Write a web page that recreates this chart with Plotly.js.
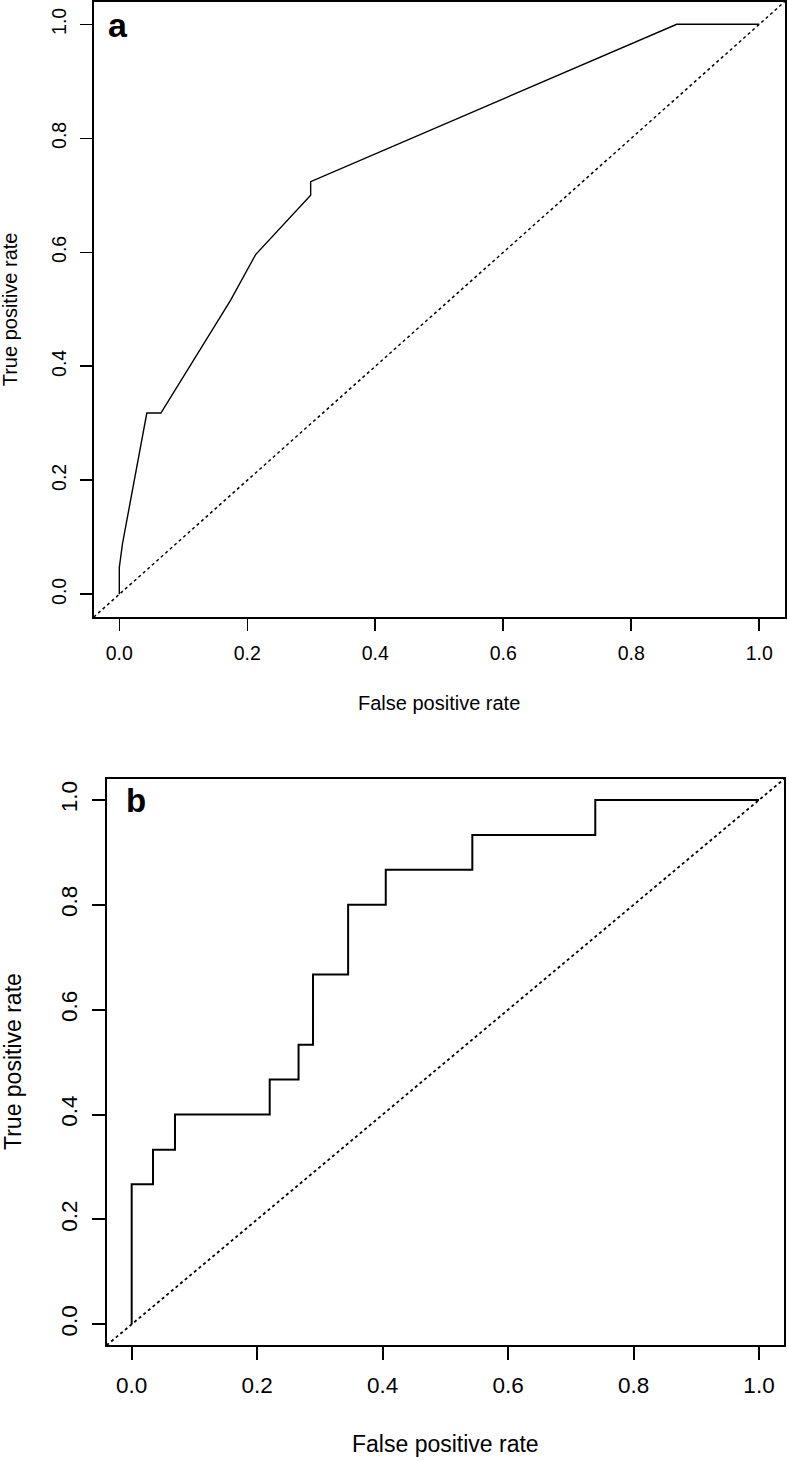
<!DOCTYPE html>
<html><head><meta charset="utf-8">
<script src="https://cdn.plot.ly/plotly-3.0.1.min.js"></script>
<style>html,body{margin:0;padding:0;background:#fff}#chart{width:787px;height:1461px}</style>
</head><body><div id="chart"></div>
<script>
// Panel a ROC curve
const fprA = [0, 0, 0.005, 0.043, 0.065, 0.174, 0.213, 0.299, 0.299, 0.871, 1.0];
const tprA = [0, 0.047, 0.089, 0.318, 0.318, 0.516, 0.596, 0.700, 0.724, 1.0, 1.0];
// Panel b ROC curve (step corners)
const fprB = [0, 0, 0.034, 0.069, 0.220, 0.266, 0.289, 0.345, 0.405, 0.543, 0.739, 1.0];
const tprB = [0, 0.267, 0.333, 0.400, 0.467, 0.533, 0.667, 0.800, 0.867, 0.933, 1.0, 1.0];
// chance line y = x across the plotted range
const refLine = [-0.04, 1.04];
const tickVals = [0, 0.2, 0.4, 0.6, 0.8, 1.0];
const tickText = ['0.0', '0.2', '0.4', '0.6', '0.8', '1.0'];
const panelLabels = ['a', 'b'];
const xTitle = 'False positive rate';
const yTitle = 'True positive rate';

const W = 787, H = 1461;
const FONT = 'Liberation Sans, Arial, Helvetica, sans-serif';
const px = v => v / W;
const py = v => 1 - v / H;

const traces = [
  {x: refLine, y: refLine, xaxis: 'x', yaxis: 'y', mode: 'lines',
   line: {color: '#000', width: 1.5, dash: 'dot'}, hoverinfo: 'skip'},
  {x: fprA, y: tprA, xaxis: 'x', yaxis: 'y', mode: 'lines',
   line: {color: '#000', width: 1.4}},
  {x: refLine, y: refLine, xaxis: 'x2', yaxis: 'y2', mode: 'lines',
   line: {color: '#000', width: 1.8, dash: 'dot'}, hoverinfo: 'skip'},
  {x: fprB, y: tprB, xaxis: 'x2', yaxis: 'y2', mode: 'lines',
   line: {color: '#000', width: 2, shape: 'hv'}}
];

function ax(domain, anchor, fs, lw, tl, isY) {
  return {
    domain: domain, anchor: anchor, range: [-0.04, 1.04], autorange: false,
    tickmode: 'array', tickvals: tickVals, ticktext: tickText,
    ticks: 'outside', ticklen: tl, tickwidth: lw, tickcolor: '#000',
    showline: true, mirror: true, linecolor: '#000', linewidth: lw,
    showgrid: false, zeroline: false, fixedrange: true,
    tickangle: isY ? -90 : 0,
    tickfont: {family: FONT, size: fs, color: '#000'},
    ticklabelstandoff: isY ? 6 : 6
  };
}

const layout = {
  width: W, height: H, margin: {l: 0, r: 0, t: 0, b: 0},
  paper_bgcolor: '#fff', plot_bgcolor: '#fff', showlegend: false,
  xaxis: ax([px(93.7), px(784.9)], 'y', 19.5, 1.6, 12, false),
  yaxis: ax([py(617.1), py(1.5)], 'x', 19.5, 1.6, 12, true),
  xaxis2: ax([px(106.6), px(784.1)], 'y2', 22.5, 2, 13, false),
  yaxis2: ax([py(1345.3), py(779)], 'x2', 22.5, 2, 13, true),
  annotations: [
    {text: '<b>' + panelLabels[0] + '</b>', xref: 'paper', yref: 'paper', x: px(118), y: py(25),
     xanchor: 'center', yanchor: 'middle', showarrow: false, font: {family: FONT, size: 34, color: '#000'}},
    {text: '<b>' + panelLabels[1] + '</b>', xref: 'paper', yref: 'paper', x: px(135.5), y: py(800),
     xanchor: 'center', yanchor: 'middle', showarrow: false, font: {family: FONT, size: 33, color: '#000'}},
    {text: xTitle, xref: 'paper', yref: 'paper', x: px(439.3), y: py(703),
     xanchor: 'center', yanchor: 'middle', showarrow: false, font: {family: FONT, size: 20, color: '#000'}},
    {text: yTitle, xref: 'paper', yref: 'paper', x: px(10), y: py(309.3), textangle: -90,
     xanchor: 'center', yanchor: 'middle', showarrow: false, font: {family: FONT, size: 20, color: '#000'}},
    {text: xTitle, xref: 'paper', yref: 'paper', x: px(445.4), y: py(1443.5),
     xanchor: 'center', yanchor: 'middle', showarrow: false, font: {family: FONT, size: 23, color: '#000'}},
    {text: yTitle, xref: 'paper', yref: 'paper', x: px(13), y: py(1062), textangle: -90,
     xanchor: 'center', yanchor: 'middle', showarrow: false, font: {family: FONT, size: 23, color: '#000'}}
  ]
};

Plotly.newPlot('chart', traces, layout, {displayModeBar: false, staticPlot: true});
</script>
</body></html>
